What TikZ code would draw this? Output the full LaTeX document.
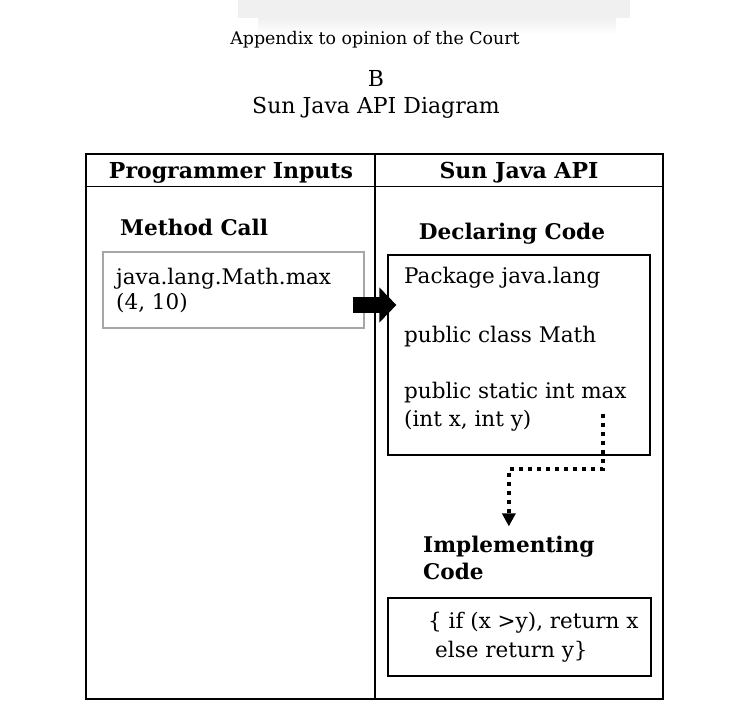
\documentclass[tikz,border=0pt]{standalone}
\usepackage{fontspec}
\setmainfont{DejaVu Serif}
\usetikzlibrary{arrows.meta}

\tikzset{
  titletext/.style={font=\fontsize{17.4}{20}\selectfont, inner sep=0pt},
  bigtitle/.style={font=\fontsize{22}{26}\selectfont, inner sep=0pt},
  body/.style={font=\fontsize{21.5}{25}\selectfont, inner sep=0pt},
  colhead/.style={font=\fontsize{22}{26}\selectfont\bfseries, inner sep=0pt},
  subhead/.style={font=\fontsize{21.6}{25}\selectfont\bfseries, inner sep=0pt},
  codebox/.style={draw, line width=1.2pt, inner sep=0pt},
  callstyle/.style={draw=black!35, line width=1.4pt, inner sep=0pt},
  bigarrow/.style={line width=16pt, -{Triangle[length=17pt,width=34pt]}},
  dotarrow/.style={line width=4pt, dash pattern=on 4pt off 5pt, -{Triangle[length=13pt,width=13pt]}}
}

\begin{document}
\begin{tikzpicture}[x=1pt,y=-1pt]
\useasboundingbox (0,0) rectangle (742,715);
% shadow of the page above
\fill[black!6] (238,0) rectangle (630,18);
\shade[top color=black!6,bottom color=white] (258,18) rectangle (616,34);

% titles
\node[titletext, anchor=base] (apx) at (375,44) {Appendix to opinion of the Court};
\node[bigtitle, anchor=base] (letter) at (376,86) {B};
\node[bigtitle, anchor=base] (diagtitle) at (376,113) {Sun Java API Diagram};

% table
\node[draw, line width=1.5pt, minimum width=577pt, minimum height=545pt, inner sep=0pt] (frame) at (374.5,426.5) {};
\draw[line width=1.5pt] ([yshift=-33pt]frame.north west) -- ([yshift=-33pt]frame.north east);
\draw[line width=1.5pt] ([xshift=0.5pt]frame.north) -- ([xshift=0.5pt]frame.south);
\node[colhead, anchor=base] (proghead) at (231,178) {Programmer Inputs};
\node[colhead, anchor=base] (apihead) at (519,178) {Sun Java API};

% left column
\node[subhead, anchor=base west] (callhead) at (120,235) {Method Call};
\node[callstyle, minimum width=261pt, minimum height=76pt] (callbox) at (233.5,290) {};
\node[body, anchor=base west] (call1) at (116,284) {java.lang.Math.max};
\node[body, anchor=base west] (call2) at (116,309) {(4, 10)};

% right column
\node[subhead, anchor=base] (declhead) at (512,239) {Declaring Code};
\node[codebox, minimum width=262pt, minimum height=200pt] (declbox) at (519,355) {};
\node[body, anchor=base west] (decl1) at (404,283) {Package java.lang};
\node[body, anchor=base west] (decl2) at (404,342) {public class Math};
\node[body, anchor=base west] (decl3) at (404,398) {public static int max};
\node[body, anchor=base west] (decl4) at (404,426) {(int x, int y)};

\node[subhead, anchor=base west] (implhead) at (423,552) {Implementing};
\node[subhead, anchor=base west] (implhead2) at (423,579) {Code};
\node[codebox, minimum width=263pt, minimum height=78pt] (implbox) at (519.5,637) {};
\node[body, anchor=base west] (impl1) at (428,628) {\{ if (x >y), return x};
\node[body, anchor=base west] (impl2) at (435,657) {else return y\}};

% connectors
\draw[bigarrow] ([shift={(-12,15)}]callbox.east) -- ([shift={(9,-50)}]declbox.west);
\draw[dotarrow] ([shift={(-48,-42)}]declbox.south east) |- ([shift={(0,-66)}]implhead.north) -- ([shift={(0,-9)}]implhead.north);
\end{tikzpicture}
\end{document}
